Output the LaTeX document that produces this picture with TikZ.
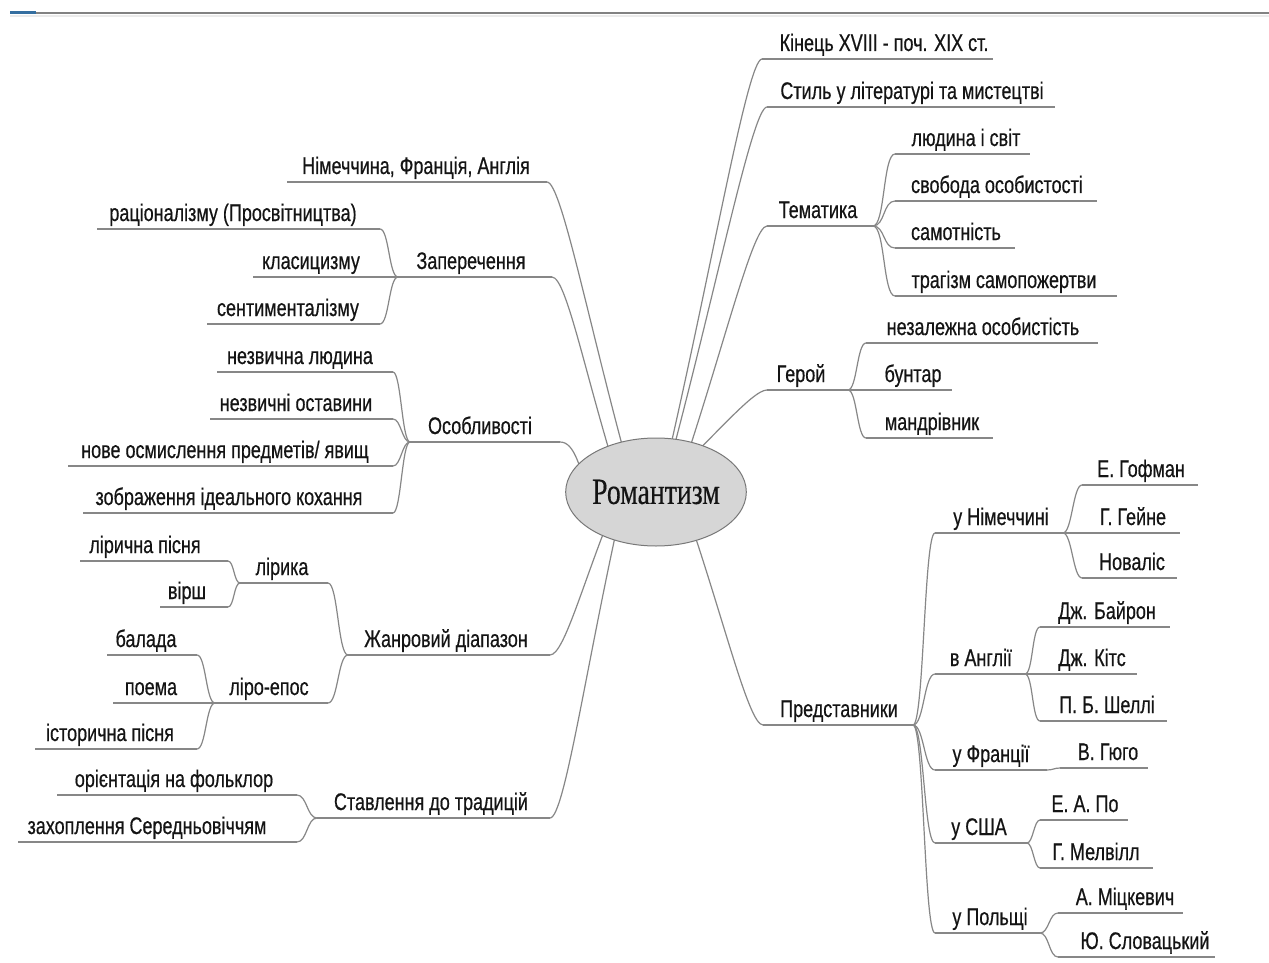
\documentclass[tikz,border=0pt]{standalone}
\usepackage{fontspec}
\usetikzlibrary{calc,shapes.geometric}
\newfontfamily\labfont[FakeStretch=0.75,FakeBold=0.5]{Liberation Sans}
\newfontfamily\romfont[FakeStretch=0.75,FakeBold=0.3]{Liberation Serif}
\definecolor{lc}{RGB}{135,135,135}
\definecolor{tc}{RGB}{20,20,20}
\definecolor{ef}{RGB}{214,214,214}
\definecolor{eb}{RGB}{120,120,120}
\definecolor{barg}{RGB}{130,130,130}
\definecolor{barb}{RGB}{52,110,160}
\tikzset{
  ul/.style={draw=lc, line width=1.2pt},
  conn/.style={draw=lc, line width=1.2pt},
  lbl/.style={font=\labfont\fontsize{24}{26}\selectfont, text=tc, inner sep=0pt, anchor=base},
  rootbox/.style={draw=eb, fill=ef, ellipse, minimum width=162, minimum height=108, inner sep=0pt, line width=1pt, font=\romfont\fontsize{37}{40}\selectfont, text=tc}
}
% name, x-left, x-right, line y, text centre x, text
\newcommand\mmItem[6]{%
  \coordinate (#1-l) at (#2,#4);
  \coordinate (#1-r) at (#3,#4);
  \draw[ul] (#1-l) -- (#1-r);
  \node[lbl] (#1) at (#5,#4-8) {#6};}
\newcommand\brR[3]{\draw[conn] (#1) .. controls +(#3,0) and +(-#3,0) .. (#2);}
\newcommand\brL[3]{\draw[conn] (#1) .. controls +(-#3,0) and +(#3,0) .. (#2);}
\newcommand\mainR[2]{\draw[conn] (#1) .. controls ($(#1)!0.5!(#2)$) and ($(#2)+(-15,0)$) .. (#2);}
\newcommand\mainL[2]{\draw[conn] (#1) .. controls ($(#1)!0.5!(#2)$) and ($(#2)+(15,0)$) .. (#2);}
\begin{document}
\begin{tikzpicture}[x=1pt,y=-1pt]
\path[use as bounding box] (0,0) rectangle (1269,963);
\fill[white] (0,0) rectangle (1269,963);
% top bar
\fill[black!8] (10,15) rectangle (1269,17);
\draw[barg, line width=2.5pt] (10,13) -- (1269,13);
\draw[barb, line width=2.5pt] (10,12.5) -- (36,12.5);

% ---------- right side ----------
\mmItem{kin}{762}{993}{59}{884}{Кінець XVIII - поч. XIX ст.}
\mmItem{stil}{767}{1055}{107}{912}{Стиль у літературі та мистецтві}
\mmItem{tem}{767}{873}{226}{818}{Тематика}
\mmItem{lyud}{895}{1030}{154}{966}{людина і світ}
\mmItem{svob}{895}{1097}{201}{997}{свобода особистості}
\mmItem{samot}{895}{1015}{248}{956}{самотність}
\mmItem{trag}{895}{1117}{296}{1004}{трагізм самопожертви}
\mmItem{geroi}{767}{848}{390}{801}{Герой}
\mmItem{nezal}{866}{1098}{343}{983}{незалежна особистість}
\mmItem{buntar}{866}{952}{390}{913}{бунтар}
\mmItem{mandr}{866}{993}{438}{932}{мандрівник}
\mmItem{pred}{763}{913}{725}{839}{Представники}
\mmItem{nim}{935}{1063}{533}{1001}{у Німеччині}
\mmItem{hof}{1082}{1198}{485}{1141}{Е. Гофман}
\mmItem{heine}{1082}{1180}{533}{1133}{Г. Гейне}
\mmItem{noval}{1082}{1177}{578}{1132}{Новаліс}
\mmItem{angl}{935}{1025}{674}{981}{в Англії}
\mmItem{bair}{1040}{1170}{627}{1107}{Дж. Байрон}
\mmItem{kits}{1040}{1137}{674}{1092}{Дж. Кітс}
\mmItem{shel}{1040}{1167}{721}{1107}{П. Б. Шеллі}
\mmItem{fran}{935}{1047}{770}{991}{у Франції}
\mmItem{hugo}{1060}{1148}{768}{1108}{В. Гюго}
\mmItem{usa}{935}{1027}{843}{979}{у США}
\mmItem{poe}{1040}{1128}{820}{1085}{Е. А. По}
\mmItem{melv}{1040}{1153}{868}{1096}{Г. Мелвілл}
\mmItem{pol}{935}{1040}{933}{990}{у Польщі}
\mmItem{mic}{1058}{1183}{913}{1125}{А. Міцкевич}
\mmItem{slov}{1058}{1215}{957}{1145}{Ю. Словацький}

% ---------- left side ----------
\mmItem{niem}{287}{547}{182}{416}{Німеччина, Франція, Англія}
\mmItem{zap}{398}{552}{277}{471}{Заперечення}
\mmItem{rac}{97}{380}{229}{233}{раціоналізму (Просвітництва)}
\mmItem{klas}{253}{380}{277}{311}{класицизму}
\mmItem{sent}{207}{380}{324}{288}{сентименталізму}
\mmItem{osob}{410}{560}{442}{480}{Особливості}
\mmItem{nezl}{217}{393}{372}{300}{незвична людина}
\mmItem{nezo}{210}{393}{419}{296}{незвичні оставини}
\mmItem{nove}{68}{393}{466}{225}{нове осмислення предметів/ явищ}
\mmItem{zobr}{83}{393}{513}{229}{зображення ідеального кохання}
\mmItem{zhanr}{348}{550}{655}{446}{Жанровий діапазон}
\mmItem{lir}{240}{328}{583}{282}{лірика}
\mmItem{lirp}{80}{228}{561}{145}{лірична пісня}
\mmItem{virsh}{160}{228}{607}{187}{вірш}
\mmItem{lirep}{215}{328}{703}{269}{ліро-епос}
\mmItem{balada}{107}{197}{655}{146}{балада}
\mmItem{poema}{113}{197}{703}{151}{поема}
\mmItem{istor}{35}{197}{749}{110}{історична пісня}
\mmItem{stavl}{317}{550}{818}{431}{Ставлення до традицій}
\mmItem{orient}{57}{297}{795}{174}{орієнтація на фольклор}
\mmItem{zakh}{18}{297}{842}{147}{захоплення Середньовіччям}

% ---------- sub-branch connectors ----------
\brR{tem-r}{lyud-l}{12}\brR{tem-r}{svob-l}{12}\brR{tem-r}{samot-l}{12}\brR{tem-r}{trag-l}{12}
\brR{geroi-r}{nezal-l}{9}\brR{geroi-r}{buntar-l}{9}\brR{geroi-r}{mandr-l}{9}
\brR{pred-r}{nim-l}{11}\brR{pred-r}{angl-l}{11}\brR{pred-r}{fran-l}{11}\brR{pred-r}{usa-l}{11}\brR{pred-r}{pol-l}{11}
\brR{nim-r}{hof-l}{9}\brR{nim-r}{heine-l}{9}\brR{nim-r}{noval-l}{9}
\brR{angl-r}{bair-l}{8}\brR{angl-r}{kits-l}{8}\brR{angl-r}{shel-l}{8}
\brR{fran-r}{hugo-l}{6}
\brR{usa-r}{poe-l}{6}\brR{usa-r}{melv-l}{6}
\brR{pol-r}{mic-l}{9}\brR{pol-r}{slov-l}{9}
\brL{zap-l}{rac-r}{9}\brL{zap-l}{klas-r}{9}\brL{zap-l}{sent-r}{9}
\brL{osob-l}{nezl-r}{8}\brL{osob-l}{nezo-r}{8}\brL{osob-l}{nove-r}{8}\brL{osob-l}{zobr-r}{8}
\brL{zhanr-l}{lir-r}{10}\brL{zhanr-l}{lirep-r}{10}
\brL{lir-l}{lirp-r}{6}\brL{lir-l}{virsh-r}{6}
\brL{lirep-l}{balada-r}{9}\brL{lirep-l}{poema-r}{9}\brL{lirep-l}{istor-r}{9}
\brL{stavl-l}{orient-r}{10}\brL{stavl-l}{zakh-r}{10}

% ---------- main connectors (start points hidden under the ellipse) ----------
\coordinate (s-kin) at (660,492);
\coordinate (s-stil) at (662,492);
\coordinate (s-tem) at (675,492);
\coordinate (s-geroi) at (655,492);
\coordinate (s-pred) at (680,492);
\coordinate (s-niem) at (635,492);
\coordinate (s-zap) at (622,492);
\coordinate (s-osob) at (592,505);
\coordinate (c-osob) at (580,468);
\coordinate (s-zhanr) at (620,492);
\coordinate (s-stavl) at (625,492);
\mainR{s-kin}{kin-l}
\mainR{s-stil}{stil-l}
\mainR{s-tem}{tem-l}
\mainR{s-geroi}{geroi-l}
\mainR{s-pred}{pred-l}
\mainL{s-niem}{niem-r}
\mainL{s-zap}{zap-r}
\draw[conn] (s-osob) .. controls (c-osob) and ($(osob-r)+(15,0)$) .. (osob-r);
\mainL{s-zhanr}{zhanr-r}
\mainL{s-stavl}{stavl-r}

% ---------- centre ----------
\node[rootbox] (root) at (656,492) {Романтизм};
\end{tikzpicture}
\end{document}
